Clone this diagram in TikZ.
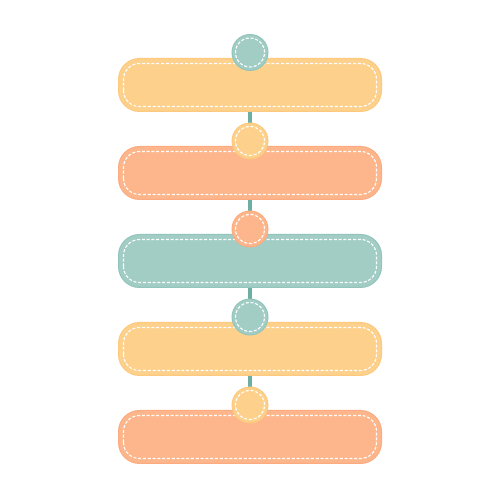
\documentclass[tikz,border=0pt]{standalone}
\usetikzlibrary{calc}
\definecolor{ylw}{HTML}{FDD18C}
\definecolor{ylwb}{HTML}{FCC97F}
\definecolor{org}{HTML}{FDB68B}
\definecolor{orgb}{HTML}{FCAC80}
\definecolor{tea}{HTML}{A1CDC5}
\definecolor{teab}{HTML}{93C5BC}
\definecolor{conn}{HTML}{6DAFA1}
\tikzset{
  bar/.style={draw=#1b, fill=#1, line width=1pt, rounded corners=21pt,
    minimum width=263pt, minimum height=53pt, inner sep=0pt},
  dot/.style={draw=#1b, fill=#1, line width=1pt, circle,
    minimum size=36pt, inner sep=0pt},
  stitch/.style={draw=white, line width=1.1pt, dash pattern=on 3pt off 1.8pt},
  link/.style={draw=conn, line width=4pt}
}
\begin{document}
\begin{tikzpicture}[x=1pt,y=1pt]
\useasboundingbox[fill=white] (0,0) rectangle (500,500);
% circles positions
\coordinate (p1) at (250,447.5);
\coordinate (p2) at (250,359);
\coordinate (p3) at (250,271);
\coordinate (p4) at (250,183);
\coordinate (p5) at (250,95);
\draw[link] (p1) -- (p2);
\draw[link] (p2) -- (p3);
\draw[link] (p3) -- (p4);
\draw[link] (p4) -- (p5);
% bars
\foreach \i/\y/\c in {1/415/ylw,2/327/org,3/239/tea,4/151/ylw,5/63/org}{
  \node[bar=\c] (b\i) at (250,\y) {};
  \draw[stitch, rounded corners=16pt]
    ($(b\i.south west)+(5.5,5.5)$) rectangle ($(b\i.north east)+(-5.5,-5.5)$);
}
% circles
\foreach \i/\c in {1/tea,2/ylw,3/org,4/tea,5/ylw}{
  \node[dot=\c] (c\i) at (p\i) {};
  \draw[stitch] (c\i.center) circle (14.5);
}
\end{tikzpicture}
\end{document}
